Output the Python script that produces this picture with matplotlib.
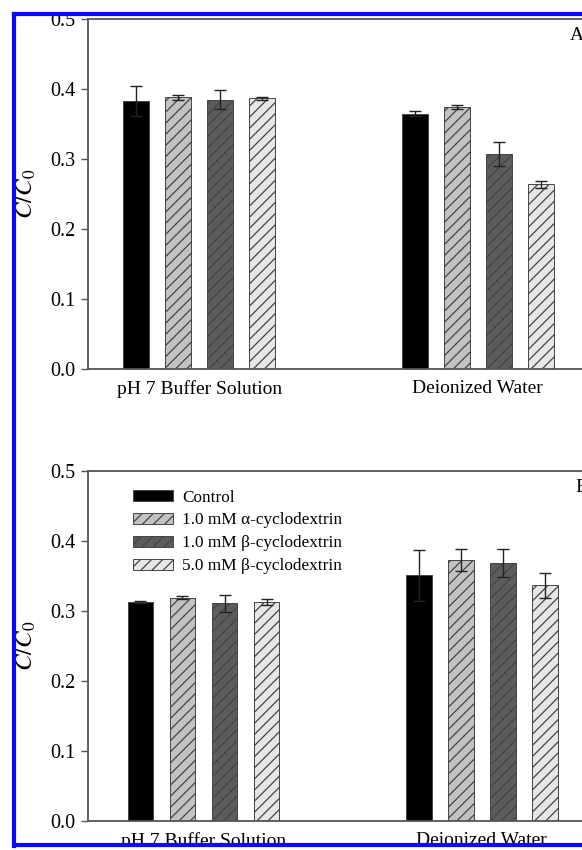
import numpy as np
import matplotlib
matplotlib.use("Agg")
import matplotlib.pyplot as plt
from matplotlib.patches import Rectangle
from matplotlib.lines import Line2D

plt.rcParams['font.family'] = ['Liberation Serif', 'DejaVu Serif']
plt.rcParams['mathtext.fontset'] = 'stix'
plt.rcParams['hatch.linewidth'] = 0.9
plt.rcParams['hatch.color'] = '#333333'

groups = ["pH 7 Buffer Solution", "Deionized Water"]
series = ["Control", "1.0 mM \u03b1-cyclodextrin", "1.0 mM \u03b2-cyclodextrin",
          "5.0 mM \u03b2-cyclodextrin"]
colors = ["#000000", "#c2c2c2", "#5c5c5c", "#e6e6e6"]
hatches = ["", "///", "///", "///"]

# panel A
a_vals = [[0.383, 0.365], [0.388, 0.374], [0.385, 0.307], [0.387, 0.264]]
a_err = [[0.021, 0.004], [0.004, 0.003], [0.013, 0.017], [0.002, 0.005]]
# panel B
b_vals = [[0.313, 0.351], [0.319, 0.373], [0.311, 0.368], [0.313, 0.337]]
b_err = [[0.002, 0.036], [0.002, 0.016], [0.012, 0.020], [0.004, 0.018]]

fig = plt.figure(figsize=(5.82, 8.5), dpi=100)
W, H = 582.0, 850.0


def panel(top_px, bot_px, vals, errs, letter, letter_x, xshift, legend=False):
    ax = fig.add_axes([88 / W, 1 - bot_px / H, 501 / W, (bot_px - top_px) / H])
    x = np.arange(len(groups))
    step = 0.151
    width = 0.093
    for i, name in enumerate(series):
        pos = x + (i - 1.5) * step
        ax.bar(pos, vals[i], width, color=colors[i], edgecolor="#444444",
               linewidth=0.7, hatch=hatches[i], label=name, zorder=2)
        ax.errorbar(pos, vals[i], yerr=errs[i], fmt="none", ecolor="#222222",
                    elinewidth=1.0, capsize=4, capthick=1.0, zorder=3)
    ax.set_ylim(0, 0.5)
    ax.set_xlim(-0.40 - xshift, 1.40 - xshift)
    ax.set_yticks([0.0, 0.1, 0.2, 0.3, 0.4, 0.5])
    ax.set_yticklabels(["0.0", "0.1", "0.2", "0.3", "0.4", "0.5"])
    ax.set_xticks(x)
    ax.set_xticklabels(groups)
    ax.tick_params(axis="x", length=0, pad=8, labelsize=14)
    ax.tick_params(axis="y", direction="out", length=5, width=1,
                   color="#555555", labelsize=14.5, pad=4)
    for s in ["left", "bottom", "top"]:
        ax.spines[s].set_color("#555555")
        ax.spines[s].set_linewidth(1.3)
    ax.spines["right"].set_visible(False)
    ax.set_ylabel("$C/C_0$", fontsize=18)
    ax.yaxis.set_label_coords(-0.10, 0.5)
    ax.text((letter_x - 88) / 501, 0.953, letter, transform=ax.transAxes,
            fontsize=14, ha="left", va="center")
    if legend:
        ax.legend(loc="upper left", bbox_to_anchor=(0.09, 0.947), frameon=False,
                  fontsize=12.4, handlelength=2.3, handleheight=0.6,
                  labelspacing=0.4, handletextpad=0.55, borderaxespad=0,
                  borderpad=0)
    return ax


panel(19, 369, a_vals, a_err, "A", 570, 0.0)
panel(471, 821, b_vals, b_err, "B", 575, 0.015, legend=True)

# screenshot crop frame
fig.patches.append(Rectangle((0, 1 - 14 / H), 1, 14 / H, transform=fig.transFigure,
                             facecolor="white", edgecolor="none", zorder=20))
fig.patches.append(Rectangle((0, 0), 13 / W, 1, transform=fig.transFigure,
                             facecolor="white", edgecolor="none", zorder=20))
fig.patches.append(Rectangle((0, 0), 1, 3 / H, transform=fig.transFigure,
                             facecolor="white", edgecolor="none", zorder=20))
blue = "#0a0aff"
fig.lines.append(Line2D([14 / W, 1], [1 - 14 / H, 1 - 14 / H], transform=fig.transFigure,
                        color=blue, linewidth=3, zorder=21))
fig.lines.append(Line2D([14 / W, 14 / W], [1 - 14 / H, 4 / H], transform=fig.transFigure,
                        color=blue, linewidth=3, zorder=21))
fig.lines.append(Line2D([14 / W, 1], [5 / H, 5 / H], transform=fig.transFigure,
                        color=blue, linewidth=3, zorder=21))

fig.savefig("out.png", dpi=100)
